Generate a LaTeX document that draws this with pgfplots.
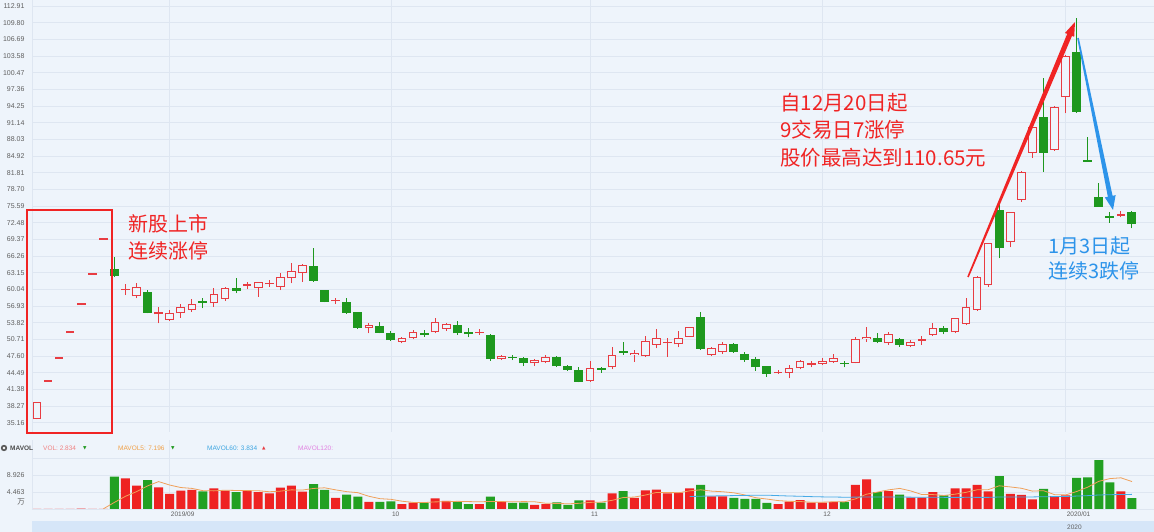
\documentclass[border=0pt]{standalone}
\usepackage{fontspec}
\setmainfont{Liberation Sans}
\newfontfamily\cjk{Noto Sans CJK SC}
\newfontfamily\sym{DejaVu Sans}
\usepackage{pgfplots}
\usepackage{pgfplotstable}
\pgfplotsset{compat=1.18}

\definecolor{bg}{RGB}{238,244,251}
\definecolor{gridc}{RGB}{222,230,241}
\definecolor{upc}{RGB}{232,60,66}
\definecolor{dnc}{RGB}{30,152,30}
\definecolor{vup}{RGB}{238,34,34}
\definecolor{vdn}{RGB}{34,160,34}
\definecolor{annred}{RGB}{240,36,36}
\definecolor{annblue}{RGB}{45,148,234}
\definecolor{tickc}{RGB}{95,95,95}
\definecolor{ma5c}{RGB}{240,160,90}
\definecolor{ma60c}{RGB}{70,170,230}
\definecolor{navc}{RGB}{214,230,248}
\definecolor{volc}{RGB}{240,130,130}
\definecolor{mav5c}{RGB}{240,160,70}
\definecolor{mav60c}{RGB}{60,165,225}
\definecolor{mav120c}{RGB}{225,130,225}

\pgfplotstableread{
i O H L C V
0 35.78 39.08 35.78 39.08 0.05
1 42.77 43.12 42.77 43.12 0.05
2 47.00 47.35 47.00 47.35 0.05
3 51.85 52.20 51.85 52.20 0.05
4 57.08 57.43 57.08 57.43 0.10
5 62.80 63.15 62.80 63.15 0.05
6 69.27 69.62 69.27 69.62 0.05
8 59.90 61.03 58.98 60.15 8.05
9 58.79 61.28 58.36 60.41 6.13
11 55.37 56.68 53.69 55.75 5.69
12 54.32 56.18 54.20 55.68 3.94
13 55.56 57.30 54.75 56.80 4.81
14 56.18 58.17 55.87 57.30 4.99
16 57.43 60.23 56.80 59.11 5.42
17 58.23 60.41 57.92 60.23 4.81
19 60.66 61.47 60.04 60.97 4.81
20 60.23 61.40 58.67 61.35 4.46
21 60.97 61.78 60.54 61.28 4.11
22 60.54 63.03 59.91 62.28 5.60
23 62.09 65.01 61.16 63.52 6.13
24 63.02 64.70 61.47 64.58 4.55
27 57.80 58.36 57.30 58.05 2.89
30 52.76 53.70 51.83 53.38 1.84
33 50.27 51.20 49.96 50.90 1.31
34 50.90 52.45 50.71 52.14 1.66
36 52.02 54.75 51.83 53.88 2.80
37 52.64 53.82 52.33 53.51 2.10
40 51.83 52.57 51.52 52.14 1.31
42 46.98 47.79 46.85 47.60 1.93
45 46.23 46.98 45.73 46.85 1.05
46 46.42 47.79 46.23 47.47 1.31
50 42.94 46.73 42.81 45.30 2.28
52 45.50 49.34 45.11 47.70 4.11
54 47.79 48.72 46.55 48.23 2.89
55 47.60 51.34 47.48 50.40 4.90
56 49.66 52.58 49.04 51.03 5.08
57 49.97 50.90 47.48 50.16 4.11
58 49.78 52.33 49.22 51.03 4.29
59 51.21 53.08 51.10 52.95 5.42
61 47.79 49.20 47.60 49.04 3.32
62 48.41 50.28 47.98 49.84 3.32
67 44.37 44.99 44.25 44.68 1.31
68 44.49 45.92 43.44 45.30 1.93
69 45.30 46.86 45.12 46.67 2.36
70 45.92 46.67 45.49 46.24 1.66
71 46.11 47.17 45.92 46.73 1.66
72 46.55 47.92 46.36 47.17 1.84
74 46.36 51.09 46.24 50.78 6.30
75 50.78 53.08 50.28 51.21 7.79
77 49.97 52.14 49.66 51.64 4.72
79 49.53 50.59 49.22 50.28 2.98
80 50.47 51.33 49.66 50.72 2.98
81 51.52 53.70 51.33 52.89 4.46
83 52.02 54.75 51.83 54.63 5.42
84 53.57 58.48 53.38 56.68 5.42
85 56.18 62.53 56.06 62.41 6.30
86 60.85 68.75 60.54 68.63 4.64
88 68.94 74.53 67.88 74.41 3.94
89 76.71 82.05 76.40 81.99 3.68
90 85.54 90.40 84.50 90.27 2.54
92 86.04 94.20 85.90 94.13 3.41
93 95.87 103.77 92.88 103.58 3.59
98 73.72 74.65 73.47 74.03 4.64
}\uptable

\pgfplotstableread{
i O H L C V
7 63.80 66.00 62.40 62.53 8.48
10 59.48 59.91 55.56 55.68 7.61
15 57.86 58.36 56.49 57.49 4.64
18 60.35 62.22 59.29 59.79 4.46
25 64.39 67.69 61.47 61.66 6.56
26 59.91 60.00 57.60 57.74 4.99
28 57.74 58.36 55.44 55.68 3.76
29 55.75 55.90 52.70 52.89 3.24
31 53.26 53.88 51.83 51.95 1.84
32 51.83 52.26 50.46 50.58 2.01
35 51.83 52.45 51.21 51.52 1.58
38 53.38 54.19 51.52 51.83 1.93
39 52.02 52.76 51.08 51.70 1.31
41 51.52 51.70 46.73 47.04 3.24
43 47.47 47.72 46.85 47.16 1.58
44 47.16 47.35 45.73 46.23 1.66
47 47.47 47.60 45.60 45.73 1.75
48 45.79 45.92 44.86 44.99 1.05
49 44.99 45.48 42.69 42.81 2.28
51 45.30 45.61 44.49 44.99 1.66
53 48.55 50.28 47.79 48.25 4.72
60 54.82 55.88 48.72 48.91 6.30
63 49.78 50.00 48.20 48.41 2.89
64 47.92 48.41 46.55 46.86 2.63
65 47.04 47.48 44.87 45.49 2.63
66 45.74 45.80 43.75 44.25 1.58
73 46.36 46.73 45.49 46.11 1.84
76 50.90 51.96 49.97 50.28 4.46
78 50.78 50.90 49.34 49.66 3.76
82 52.76 53.20 51.64 52.14 3.59
87 74.84 76.10 65.82 67.70 8.66
91 92.26 99.41 81.99 85.54 5.25
94 104.39 110.65 93.00 93.19 8.14
95 84.17 88.53 83.87 83.87 8.31
96 77.33 79.82 75.47 75.47 12.86
97 73.70 74.53 72.48 73.41 6.99
99 74.53 74.60 71.42 72.23 2.834
}\dntable

\pgfplotstableread{
i v
6 0.05
7 1.736
8 3.336
9 4.552
10 6.064
11 7.192
12 6.284
13 5.636
14 5.408
15 4.814
16 4.760
17 4.934
18 4.864
19 4.828
20 4.792
21 4.530
22 4.688
23 5.022
24 4.970
25 5.390
26 5.566
27 5.024
28 4.550
29 4.288
30 3.344
31 2.714
32 2.538
33 2.048
34 1.732
35 1.680
36 1.872
37 1.890
38 2.014
39 1.944
40 1.890
41 1.978
42 1.944
43 1.874
44 1.944
45 1.892
46 1.506
47 1.470
48 1.364
49 1.488
50 1.734
51 1.804
52 2.276
53 3.010
54 3.132
55 3.656
56 4.340
57 4.340
58 4.254
59 4.760
60 5.040
61 4.688
62 4.530
63 4.250
64 3.692
65 2.958
66 2.610
67 2.208
68 2.016
69 1.962
70 1.768
71 1.784
72 1.890
73 1.872
74 2.660
75 3.886
76 4.446
77 5.022
78 5.406
79 4.742
80 3.780
81 3.780
82 3.554
83 3.886
84 4.374
85 5.038
86 5.074
87 6.088
88 5.792
89 5.444
90 4.692
91 4.814
92 3.764
93 3.694
94 4.586
95 5.740
96 7.262
97 7.978
98 8.188
99 7.196
}\mafive

\pgfplotstableread{
i v
59 3.258
60 3.362
61 3.417
62 3.471
63 3.519
64 3.562
65 3.605
66 3.630
67 3.511
68 3.409
69 3.346
70 3.247
71 3.179
72 3.144
73 3.095
74 3.117
75 3.169
76 3.153
77 3.152
78 3.140
79 3.110
80 3.085
81 3.091
82 3.057
83 3.045
84 3.060
85 3.056
86 3.050
87 3.146
88 3.149
89 3.156
90 3.168
91 3.225
92 3.248
93 3.286
94 3.394
95 3.506
96 3.674
97 3.755
98 3.801
99 3.834
}\masixty

\begin{document}
\begin{tikzpicture}[x=1pt,y=1pt]
\path[use as bounding box] (0,0) rectangle (1154,532);
\fill[bg] (0,0) rectangle (1154,532);
% navigator band
\fill[navc] (32,0) rectangle (1154,11);
\node[anchor=west, inner sep=0pt, text=tickc, font=\fontsize{6.5}{7}\selectfont] at (1067,5) {2020};

% ---------- price panel ----------
\begin{axis}[
  at={(32pt,100pt)}, anchor=south west, scale only axis,
  width=1122pt, height=432pt,
  xmin=-0.452, xmax=100.99, ymin=33.42, ymax=114.03,
  axis line style={draw=none}, major tick length=0pt,
  xtick={12,32,50,71,93}, xticklabels={},
  ytick={35.16,38.27,41.38,44.49,47.60,50.71,53.82,56.93,60.04,63.15,66.26,69.37,72.48,75.59,78.70,81.81,84.92,88.03,91.14,94.25,97.36,100.47,103.58,106.69,109.80,112.91},
  yticklabels={35.16,38.27,41.38,44.49,47.60,50.71,53.82,56.93,60.04,63.15,66.26,69.37,72.48,75.59,78.70,81.81,84.92,88.03,91.14,94.25,97.36,100.47,103.58,106.69,109.80,112.91},
  yticklabel style={font=\fontsize{7}{8}\selectfont, text=tickc, xshift=-4pt},
  grid=major, major grid style={draw=gridc, line width=0.7pt},
]
% red (up) candles
\addplot[forget plot, draw=none, mark=none, error bars/.cd, y dir=plus, y explicit, error mark=none,
  error bar style={line width=1pt, draw=upc}]
  table[x=i, y=L, y error plus expr={\thisrow{H}-\thisrow{L}}] {\uptable};
\addplot[forget plot, draw=none, mark=none, error bars/.cd, y dir=plus, y explicit, error mark=none,
  error bar style={line width=8.6pt, draw=upc}]
  table[x=i, y=O, y error plus expr={\thisrow{C}-\thisrow{O}}] {\uptable};
\addplot[forget plot, draw=none, mark=none, error bars/.cd, y dir=plus, y explicit, error mark=none,
  error bar style={line width=6.6pt, draw=bg}]
  table[x=i, y expr={\thisrow{O}+0.19}, y error plus expr={max(\thisrow{C}-\thisrow{O}-0.38,0)}] {\uptable};
% green (down) candles
\addplot[forget plot, draw=none, mark=none, error bars/.cd, y dir=plus, y explicit, error mark=none,
  error bar style={line width=1pt, draw=dnc}]
  table[x=i, y=L, y error plus expr={\thisrow{H}-\thisrow{L}}] {\dntable};
\addplot[forget plot, draw=none, mark=none, error bars/.cd, y dir=plus, y explicit, error mark=none,
  error bar style={line width=9pt, draw=dnc}]
  table[x=i, y=C, y error plus expr={\thisrow{O}-\thisrow{C}}] {\dntable};
\end{axis}
\draw[gridc, line width=0.7pt] (32,100) -- (32,532);

% ---------- volume panel ----------
\begin{axis}[
  at={(32pt,23pt)}, anchor=south west, scale only axis,
  width=1122pt, height=69pt,
  xmin=-0.452, xmax=100.99, ymin=0, ymax=18.11,
  axis line style={draw=none}, major tick length=0pt,
  xtick={12,32,50,71,93}, xticklabels={2019/09,10,11,12,2020/01},
  xticklabel style={anchor=north west, inner sep=0pt, yshift=-2.5pt, xshift=1pt, font=\fontsize{6.5}{7}\selectfont, text=tickc},
  ytick={0,4.463,8.926,13.389}, yticklabels={,4.463,8.926,},
  yticklabel style={font=\fontsize{7}{8}\selectfont, text=tickc, xshift=-4pt},
  grid=major, major grid style={draw=gridc, line width=0.7pt},
]
\addplot[ybar, bar width=9pt, bar shift=0pt, fill=vup, draw=none] table[x=i, y=V] {\uptable};
\addplot[ybar, bar width=9pt, bar shift=0pt, fill=vdn, draw=none] table[x=i, y=V] {\dntable};
\addplot[ma5c, line width=0.8pt, mark=none] table[x=i, y=v] {\mafive};
\addplot[ma60c, line width=0.8pt, mark=none] table[x=i, y=v] {\masixty};
\end{axis}
\draw[gridc, line width=0.7pt] (32,23) -- (32,92);
\node[anchor=east, inner sep=0pt, text=tickc, font=\cjk\fontsize{7.5}{8}\selectfont] at (25,30) {万};

% header of volume panel
\fill[gray!70!black] (4,84) circle (3.2pt);
\fill[white] (4,84) circle (1.4pt);
\node[anchor=west, inner sep=0pt, text=black!70, font=\bfseries\fontsize{6.5}{7}\selectfont] at (10,84) {MAVOL};
\node[anchor=west, inner sep=0pt, text=volc, font=\fontsize{6.5}{7}\selectfont] at (43,84) {VOL: 2.834};
\node[anchor=west, inner sep=0pt, text=dnc, font=\sym\fontsize{4.5}{5}\selectfont] at (83,84) {▼};
\node[anchor=west, inner sep=0pt, text=mav5c, font=\fontsize{6.5}{7}\selectfont] at (118,84) {MAVOL5: 7.196};
\node[anchor=west, inner sep=0pt, text=dnc, font=\sym\fontsize{4.5}{5}\selectfont] at (171,84) {▼};
\node[anchor=west, inner sep=0pt, text=mav60c, font=\fontsize{6.5}{7}\selectfont] at (207,84) {MAVOL60: 3.834};
\node[anchor=west, inner sep=0pt, text=upc, font=\sym\fontsize{4.5}{5}\selectfont] at (262,84) {▲};
\node[anchor=west, inner sep=0pt, text=mav120c, font=\fontsize{6.5}{7}\selectfont] at (298,84) {MAVOL120:};

% ---------- annotations ----------
\draw[annred, line width=1.6pt] (27,99) rectangle (112,322);
\node[anchor=base west, inner sep=0pt, text=annred, font=\cjk\fontsize{20}{24}\selectfont] at (128,300.5) {新股上市};
\node[anchor=base west, inner sep=0pt, text=annred, font=\cjk\fontsize{20}{24}\selectfont] at (128,273.5) {连续涨停};

\node[anchor=base west, inner sep=0pt, text=annred, font=\cjk\fontsize{20.5}{24}\selectfont] at (780,421.5) {自12月20日起};
\node[anchor=base west, inner sep=0pt, text=annred, font=\cjk\fontsize{20.5}{24}\selectfont] at (780,394) {9交易日7涨停};
\node[anchor=base west, inner sep=0pt, text=annred, font=\cjk\fontsize{20.5}{24}\selectfont] at (780,366.5) {股价最高达到110.65元};

\node[anchor=base west, inner sep=0pt, text=annblue, font=\cjk\fontsize{20}{24}\selectfont] at (1048,278.5) {1月3日起};
\node[anchor=base west, inner sep=0pt, text=annblue, font=\cjk\fontsize{20}{24}\selectfont] at (1048,253) {连续3跌停};

% red arrow
\fill[annred] (967.26,255.31) -- (1067.18,498.10) -- (1064.97,499.03) -- (1075,510) -- (1074.19,495.16) -- (1071.98,496.08) -- (968.74,254.69) -- cycle;
% blue arrow
\fill[annblue] (1078.78,494.16) -- (1112.56,336.20) -- (1115.60,336.82) -- (1113,322) -- (1104.82,334.62) -- (1107.86,335.24) -- (1077.22,493.84) -- cycle;
\end{tikzpicture}
\end{document}
